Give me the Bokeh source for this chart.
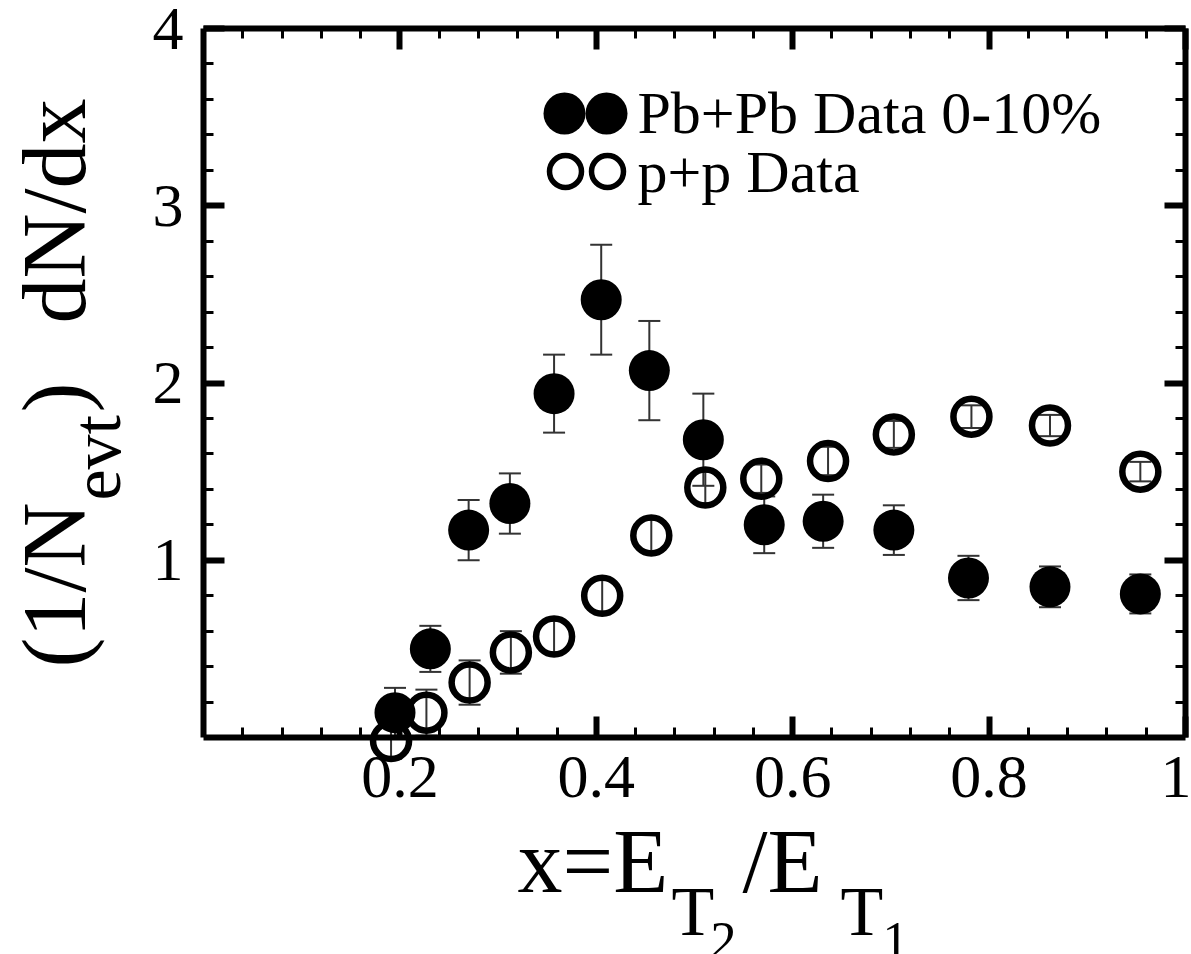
import numpy as np
from bokeh.plotting import figure
from bokeh.models import (ColumnDataSource, Whisker, TeeHead, FixedTicker, LinearAxis,
                          CustomJSTickFormatter, CustomLabelingPolicy, Label, Range1d)
from bokeh.embed import file_html
from bokeh.resources import INLINE

# ---- data ----
pb_x = [0.195, 0.231, 0.270, 0.312, 0.357, 0.405, 0.454, 0.509, 0.571, 0.631, 0.703, 0.779, 0.862, 0.954]
pb_y = [0.14, 0.50, 1.17, 1.32, 1.94, 2.47, 2.07, 1.68, 1.20, 1.22, 1.17, 0.90, 0.85, 0.81]
pb_err = [0.14, 0.13, 0.17, 0.17, 0.22, 0.31, 0.28, 0.26, 0.16, 0.15, 0.14, 0.125, 0.115, 0.11]

pp_x = [0.191, 0.227, 0.271, 0.313, 0.357, 0.406, 0.456, 0.511, 0.568, 0.636, 0.703, 0.782, 0.862, 0.954]
pp_y = [-0.02, 0.14, 0.31, 0.48, 0.57, 0.80, 1.14, 1.41, 1.46, 1.56, 1.71, 1.81, 1.76, 1.50]
pp_err = [0.10, 0.13, 0.125, 0.12, 0.09, 0.09, 0.09, 0.09, 0.08, 0.08, 0.076, 0.064, 0.06, 0.055]

x_major = [0.2, 0.4, 0.6, 0.8, 1.0]
x_minor = [0.04, 0.08, 0.12, 0.16, 0.24, 0.28, 0.32, 0.36, 0.44, 0.48, 0.52, 0.56,
           0.64, 0.68, 0.72, 0.76, 0.84, 0.88, 0.92, 0.96]
y_major = [1, 2, 3, 4]
y_minor = [0.2, 0.4, 0.6, 0.8, 1.2, 1.4, 1.6, 1.8, 2.2, 2.4, 2.6, 2.8, 3.2, 3.4, 3.6, 3.8]

legend_labels = ["Pb+Pb Data 0-10%", "p+p Data"]

FONT = "Liberation Serif"
W, H = 1191, 954
BOX_L, BOX_T, BOX_W, BOX_H = 203, 28, 982, 709     # plot box on the page (pixels)
X0, X1, Y0, Y1 = 0.0, 1.0, 0.0, 4.0

# the frame fills the whole canvas, the axes are drawn at fixed data locations
def dx(px):
    return X0 + (px - BOX_L) / BOX_W * (X1 - X0)

def dy(py):
    return Y0 + (BOX_T + BOX_H - py) / BOX_H * (Y1 - Y0)

p = figure(x_range=Range1d(dx(0), dx(W)), y_range=Range1d(dy(H), dy(0)),
           width=W, height=H, toolbar_location=None, output_backend="svg",
           x_axis_location=None, y_axis_location=None, min_border=0)
p.title.visible = False
p.grid.visible = False
p.outline_line_color = None
p.background_fill_color = "white"
p.border_fill_color = "white"

xt = FixedTicker(ticks=x_major, minor_ticks=x_minor)
yt = FixedTicker(ticks=y_major, minor_ticks=y_minor)

def make_axis(ticker, loc, bounds, labels, fmt=None, standoff=0):
    ax = LinearAxis(ticker=ticker, fixed_location=loc, bounds=bounds)
    ax.axis_line_color = "black"
    ax.axis_line_width = 6
    ax.major_tick_in = 21
    ax.major_tick_out = 0
    ax.major_tick_line_width = 6
    ax.minor_tick_in = 10
    ax.minor_tick_out = 0
    ax.minor_tick_line_width = 3
    if labels:
        ax.formatter = fmt
        ax.major_label_text_font = FONT
        ax.major_label_text_font_size = "62px"
        ax.major_label_text_color = "black"
        ax.major_label_standoff = standoff
    else:
        ax.major_label_text_font_size = "0px"
        ax.major_label_standoff = 0
        ax.major_label_policy = CustomLabelingPolicy(code="return []")
    return ax

p.add_layout(make_axis(xt, Y0, (X0, X1), True,
                       CustomJSTickFormatter(code="return Math.abs(tick-1)<1e-9 ? '1' : tick.toFixed(1);"),
                       19), "below")
p.add_layout(make_axis(yt, X0, (Y0, Y1), True,
                       CustomJSTickFormatter(code="return tick.toFixed(0);"), 20), "left")
p.add_layout(make_axis(yt, X1, (Y0, Y1), False), "right")
p.add_layout(make_axis(xt, Y1, (X0, X1), False), "above")

# error bars
pb_src = ColumnDataSource(dict(x=pb_x, y=pb_y,
                               up=list(np.array(pb_y) + np.array(pb_err)),
                               lo=list(np.array(pb_y) - np.array(pb_err))))
pp_src = ColumnDataSource(dict(x=pp_x, y=pp_y,
                               up=list(np.array(pp_y) + np.array(pp_err)),
                               lo=list(np.array(pp_y) - np.array(pp_err))))
for src in (pp_src, pb_src):
    w = Whisker(source=src, base="x", upper="up", lower="lo", dimension="height",
                line_color="#333333", line_width=2,
                upper_head=TeeHead(size=22, line_width=2, line_color="#333333"),
                lower_head=TeeHead(size=22, line_width=2, line_color="#333333"))
    p.add_layout(w)

p.scatter("x", "y", source=pp_src, size=36, fill_color=None, line_color="black", line_width=6.5)
p.scatter("x", "y", source=pb_src, size=41, fill_color="black", line_color=None)

# legend (two symbols per entry)
p.scatter([dx(564), dx(606)], [dy(113), dy(113)], size=42, fill_color="black", line_color=None)
p.scatter([dx(565), dx(607)], [dy(171), dy(171)], size=32, fill_color=None,
          line_color="black", line_width=5.5)

# text placed by its baseline (px, py are page pixels of the baseline start)
def lab(px, py, txt, size, rotated=False):
    if rotated:
        px = px - 0.36 * size
        ang = np.pi / 2
    else:
        py = py - 0.34 * size
        ang = 0.0
    p.add_layout(Label(x=dx(px), y=dy(py), text=txt, text_font=FONT,
                       text_font_size=f"{size}px", text_color="black",
                       angle=ang, text_baseline="alphabetic", text_align="left"))

lab(637, 133, legend_labels[0], 60)
lab(637, 192, legend_labels[1], 60)

# x title: x=E_{T_2}/E_{T_1}
lab(517, 892, "x=E", 90)
lab(671, 935, "T", 70)
lab(710, 958, "2", 52)
lab(742, 892, "/E", 90)
lab(840, 935, "T", 70)
lab(882, 958, "1", 52)

# y title: (1/N_evt ) dN/dx  (rotated)
lab(86, 667, "(1/N", 90, True)
lab(121, 500, "evt", 70, True)
lab(86, 412, ")", 90, True)
lab(86, 323, "dN/dx", 90, True)

open("out.html", "w").write(file_html(p, INLINE))
